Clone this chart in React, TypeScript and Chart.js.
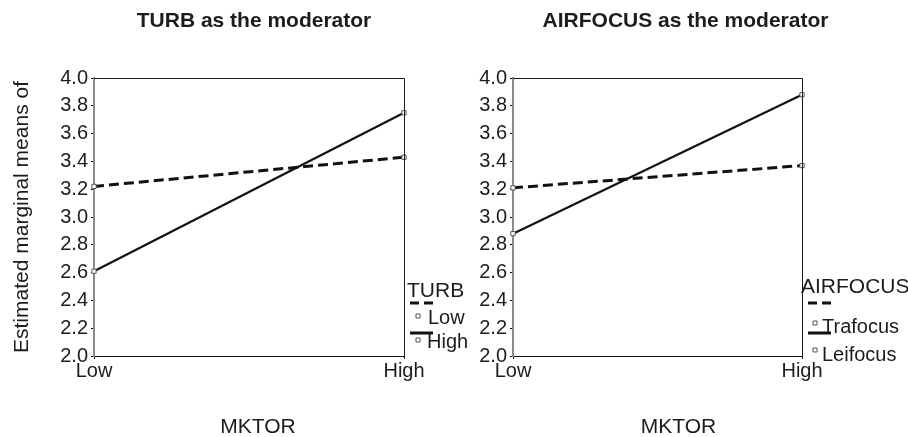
import React, { useEffect, useRef } from 'react';
import { Chart, registerables } from 'chart.js';

Chart.register(...registerables);

// ---- data ----
const mktorLevels = ['Low', 'High'];
const turbLowMeans = [3.22, 3.43];
const turbHighMeans = [2.61, 3.75];
const airTrafocusMeans = [3.21, 3.37];
const airLeifocusMeans = [2.88, 3.88];
const yMin = 2.0;
const yMax = 4.0;
const yStep = 0.2;
const turbLegendLabels = ['Low', 'High'];
const airLegendLabels = ['Trafocus', 'Leifocus'];

const FONT = '"Liberation Sans", Arial, Helvetica, sans-serif';
const INK = '#1c1c1c';

const decorPlugin = {
  id: 'decor',
  afterDraw(chart: any, _args: any, opts: any) {
    const { ctx, chartArea: a } = chart;
    ctx.save();
    // frame (top and right)
    ctx.strokeStyle = INK;
    ctx.lineWidth = 1;
    ctx.setLineDash([]);
    ctx.beginPath();
    ctx.moveTo(a.left, a.top + 0.5);
    ctx.lineTo(a.right + 0.5, a.top + 0.5);
    ctx.lineTo(a.right + 0.5, a.bottom);
    ctx.stroke();

    const cx = (a.left + a.right) / 2;
    ctx.fillStyle = INK;
    ctx.textBaseline = 'alphabetic';
    // chart title
    ctx.font = `bold 21px ${FONT}`;
    ctx.textAlign = 'center';
    ctx.fillText(opts.title, cx + opts.titleDx, a.top - 51);
    // x title
    ctx.font = `21px ${FONT}`;
    ctx.fillText(opts.xTitle, cx + opts.xTitleDx, a.bottom + 77);

    // legend
    const L = opts.legend;
    const R = a.right;
    const B = a.bottom;
    ctx.textAlign = 'left';
    ctx.font = `21px ${FONT}`;
    ctx.fillText(L.title, R + L.titleDx, B + L.titleDy);
    chart.data.datasets.forEach((ds: any, i: number) => {
      const it = L.items[i];
      ctx.strokeStyle = ds.borderColor;
      ctx.lineWidth = 3;
      ctx.setLineDash(ds.borderDash && ds.borderDash.length ? [9, 5] : []);
      ctx.beginPath();
      ctx.moveTo(R + 6, B + it.segDy);
      ctx.lineTo(R + 29, B + it.segDy);
      ctx.stroke();
      ctx.setLineDash([]);
      ctx.lineWidth = 1;
      ctx.strokeStyle = ds.pointBorderColor;
      ctx.fillStyle = ds.pointBackgroundColor;
      ctx.beginPath();
      ctx.rect(R + it.markDx - 2, B + it.markDy - 2, 4, 4);
      ctx.fill();
      ctx.stroke();
      ctx.fillStyle = INK;
      ctx.font = `20px ${FONT}`;
      ctx.fillText(L.labels[i], R + it.labelDx, B + it.labelDy);
    });
    ctx.restore();
  },
};

function makeDataset(label: string, data: number[], dashed: boolean) {
  return {
    label,
    data,
    borderColor: '#111',
    borderWidth: dashed ? 3 : 2.2,
    borderDash: dashed ? [10, 5] : [],
    pointStyle: 'rect',
    pointRadius: 3,
    pointBorderWidth: 1,
    pointBorderColor: '#555',
    pointBackgroundColor: '#fff',
    tension: 0,
    clip: false,
  };
}

function buildConfig(p: any) {
  return {
    type: 'line',
    data: {
      labels: mktorLevels,
      datasets: [
        makeDataset(p.labels[0], p.series[0], true),
        makeDataset(p.labels[1], p.series[1], false),
      ],
    },
    plugins: [decorPlugin],
    options: {
      responsive: false,
      animation: false,
      events: [],
      layout: { padding: { left: 0, top: 78, right: p.padRight, bottom: 0 } },
      plugins: {
        legend: { display: false },
        tooltip: { enabled: false },
        title: { display: false },
        decor: {
          title: p.title,
          titleDx: p.titleDx,
          xTitle: 'MKTOR',
          xTitleDx: p.xTitleDx,
          legend: p.legend,
        },
      },
      scales: {
        x: {
          type: 'category',
          offset: false,
          afterFit: (s: any) => { s.height = 81; },
          grid: { display: true, drawOnChartArea: false, drawTicks: true, tickLength: 3, color: '#111' },
          border: { display: true, color: '#111', width: 1 },
          ticks: { color: INK, font: { family: FONT, size: 20 }, padding: 0, maxRotation: 0, autoSkip: false },
        },
        y: {
          min: yMin,
          max: yMax,
          afterFit: (s: any) => { s.width = p.yWidth; },
          grid: { display: true, drawOnChartArea: false, drawTicks: true, tickLength: 3, color: '#111' },
          border: { display: true, color: '#8c8c8c', width: 2 },
          ticks: {
            stepSize: yStep,
            autoSkip: false,
            color: INK,
            padding: 3,
            font: { family: FONT, size: 20 },
            callback: (v: any) => Number(v).toFixed(1),
          },
          title: {
            display: p.yTitle !== '',
            text: p.yTitle,
            color: INK,
            font: { family: FONT, size: 21 },
            padding: { top: 10, bottom: 0 },
          },
        },
      },
    },
  };
}

function Panel(props: any) {
  const ref = useRef<HTMLCanvasElement | null>(null);
  useEffect(() => {
    if (!ref.current) return;
    const chart = new Chart(ref.current, buildConfig(props.cfg) as any);
    return () => chart.destroy();
  }, []);
  return (
    <canvas
      ref={ref}
      width={props.width}
      height={437}
      style={{ position: 'absolute', left: props.left, top: 0, width: props.width, height: 437 }}
    />
  );
}

const turbCfg = {
  title: 'TURB as the moderator',
  titleDx: 5,
  xTitleDx: 9,
  yTitle: 'Estimated marginal means of',
  yWidth: 94,
  padRight: 76,
  labels: turbLegendLabels,
  series: [turbLowMeans, turbHighMeans],
  legend: {
    title: 'TURB',
    titleDx: 3,
    titleDy: -59,
    labels: turbLegendLabels,
    items: [
      { segDy: -53, markDx: 14, markDy: -40, labelDx: 24, labelDy: -32 },
      { segDy: -23, markDx: 14, markDy: -16, labelDx: 23, labelDy: -8 },
    ],
  },
};

const airCfg = {
  title: 'AIRFOCUS as the moderator',
  titleDx: 28,
  xTitleDx: 21,
  yTitle: '',
  yWidth: 73,
  padRight: 106,
  labels: airLegendLabels,
  series: [airTrafocusMeans, airLeifocusMeans],
  legend: {
    title: 'AIRFOCUS',
    titleDx: -1,
    titleDy: -63,
    labels: airLegendLabels,
    items: [
      { segDy: -53, markDx: 13, markDy: -33, labelDx: 20, labelDy: -23 },
      { segDy: -23, markDx: 13, markDy: -6, labelDx: 20, labelDy: 5 },
    ],
  },
};

export default function App() {
  return (
    <div style={{ position: 'fixed', left: 0, top: 0, width: 908, height: 437, background: '#fff', overflow: 'hidden' }}>
      <Panel left={0} width={480} cfg={turbCfg} />
      <Panel left={440} width={468} cfg={airCfg} />
    </div>
  );
}
